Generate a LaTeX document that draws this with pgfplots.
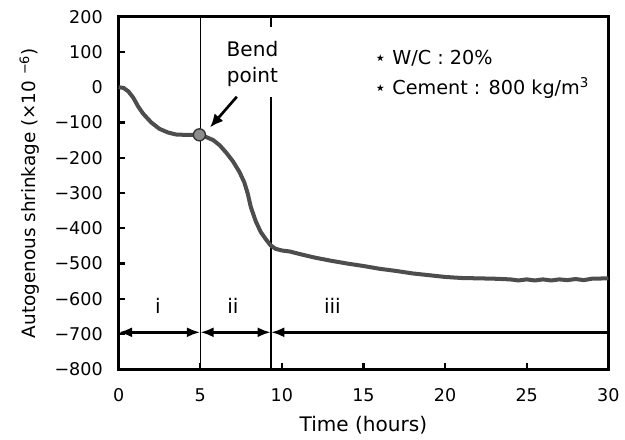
\documentclass[border=0pt]{standalone}
\usepackage{fontspec}
\setmainfont{DejaVu Sans}
\usepackage{pgfplots}
\pgfplotsset{compat=1.18}
\usetikzlibrary{arrows.meta}
\definecolor{curve}{HTML}{4D4D4D}

\begin{document}
\begin{tikzpicture}
    \begin{axis}[
        scale only axis,
        width=293pt, height=211pt,
        xmin=0, xmax=30, ymin=-800, ymax=200,
        xtick={0,5,...,30},
        ytick={-800,-700,...,200},
        yticklabels={−800,−700,−600,−500,−400,−300,−200,−100,0,100,200},
        xtick pos=bottom, ytick pos=left,
        tick align=inside,
        major tick length=4pt,
        tick style={line width=1.4pt, black},
        axis line style={line width=2pt},
        /pgf/number format/assume math mode=true,
        tick label style={font=\fontsize{10.5}{12}\selectfont},
        yticklabel style={xshift=-6pt},
        xticklabel style={yshift=-8pt},
        xlabel={Time (hours)},
        ylabel={Autogenous shrinkage (×10 \textsuperscript{−6})},
        xlabel style={at={(axis description cs:0.5,-0.159)}, anchor=center,
            font=\fontsize{12}{14}\selectfont},
        ylabel style={at={(axis description cs:-0.182,0.5)}, anchor=center,
            font=\fontsize{11}{13}\selectfont},
        clip=false,
    ]

    % phase boundaries
    \draw[line width=0.8pt] (axis cs:5,-800) -- (axis cs:5,200);
    \draw[line width=0.8pt] (axis cs:9.33,-800) -- (axis cs:9.33,-27);
    \draw[line width=0.8pt] (axis cs:9.33,172) -- (axis cs:9.33,200);

    \addplot[color=curve, line width=2.4pt, line join=round] coordinates {
        (0,0) (0.3,-2) (0.6,-12) (0.9,-30) (1.2,-55) (1.5,-75)
        (2.0,-100) (2.5,-118) (3.0,-128) (3.5,-134) (4.0,-135)
        (4.5,-135) (4.95,-135) (5.3,-140) (5.8,-150) (6.2,-165)
        (6.6,-186) (7.0,-210) (7.4,-240) (7.7,-270) (7.9,-300)
        (8.1,-340) (8.4,-380) (8.7,-410) (9.0,-430) (9.3,-448)
        (9.6,-458) (10.0,-463) (10.5,-466) (11,-472) (12,-483)
        (13,-492) (14,-500) (15,-507) (16,-515) (17,-521) (18,-528)
        (19,-533) (20,-538) (21,-541) (22,-542) (23,-543) (24,-545)
        (24.5,-548) (25,-545) (25.5,-548) (26,-545) (26.5,-548)
        (27,-545) (27.5,-547) (28,-544) (28.5,-547) (29,-543) (30,-542)
    };

    % bend point
    \addplot[only marks, mark=*, mark size=3.6pt,
        mark options={fill=black!45, draw=black!80, line width=0.8pt}]
        coordinates {(4.95,-135)};

    \node[align=center, font=\fontsize{12}{15}\selectfont]
        at (axis cs:8.2,66) {Bend\\point};
    \draw[-{Latex[length=8pt,width=7pt]}, line width=1.6pt]
        (axis cs:7.24,-27) -- (axis cs:5.6,-114);

    % phase arrows
    \draw[{Latex[length=8pt,width=6pt]}-{Latex[length=8pt,width=6pt]}, line width=1.6pt]
        (axis cs:0,-695) -- (axis cs:5,-695);
    \draw[{Latex[length=8pt,width=6pt]}-{Latex[length=8pt,width=6pt]}, line width=1.6pt]
        (axis cs:5,-695) -- (axis cs:9.33,-695);
    \draw[{Latex[length=8pt,width=6pt]}-, line width=1.6pt]
        (axis cs:9.33,-695) -- (axis cs:30,-695);
    \node[font=\fontsize{12}{14}\selectfont] at (axis cs:2.4,-620) {i};
    \node[font=\fontsize{12}{14}\selectfont] at (axis cs:7.0,-620) {ii};
    \node[font=\fontsize{12}{14}\selectfont] at (axis cs:13.1,-620) {iii};

    % notes
    \node[anchor=west, align=left, font=\fontsize{11.5}{18}\selectfont]
        at (axis cs:15.3,36) {⋆ W/C : 20\%\\⋆ Cement : 800 kg/m\textsuperscript{3}};
    \end{axis}
    \path ([shift={(-71pt,-41pt)}]current axis.south west)
        rectangle ([shift={(10pt,10pt)}]current axis.north east);
\end{tikzpicture}
\end{document}
